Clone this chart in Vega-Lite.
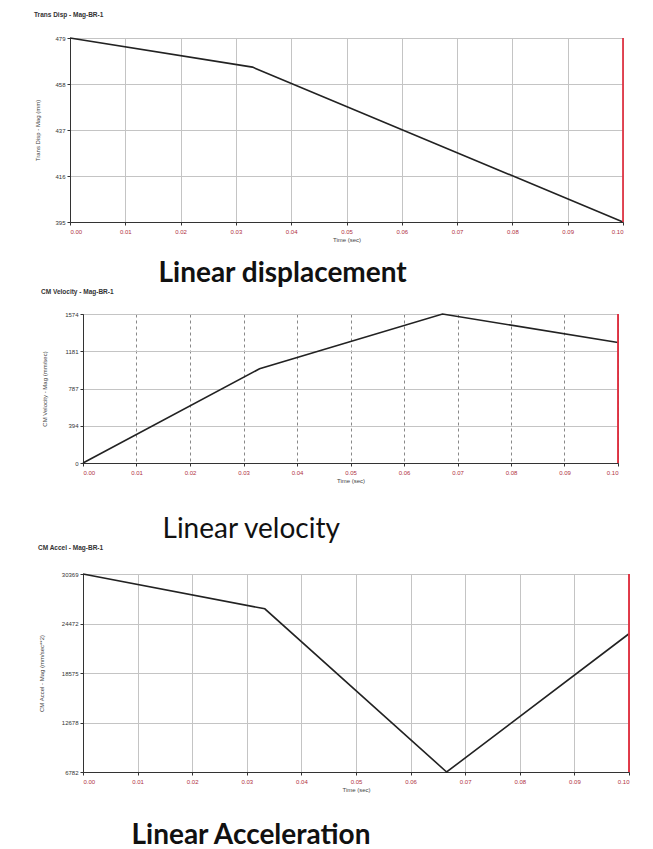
{
  "$schema": "https://vega.github.io/schema/vega-lite/v6.json",
  "padding": {"left": 33, "top": 11, "right": 0, "bottom": 0},
  "background": "white",
  "columns": 1,
  "align": "none",
  "spacing": 0,
  "datasets": {
    "disp": [{"t": 0, "v": 479}, {"t": 0.033, "v": 465.7}, {"t": 0.1, "v": 395}],
    "vel": [{"t": 0, "v": 0}, {"t": 0.033, "v": 995}, {"t": 0.0672, "v": 1574}, {"t": 0.1, "v": 1273}],
    "acc": [{"t": 0, "v": 30369}, {"t": 0.0333, "v": 26220}, {"t": 0.0666, "v": 6782}, {"t": 0.1, "v": 23250}],
    "none": []
  },
  "config": {
    "font": "Liberation Sans",
    "view": {"stroke": "#555", "strokeWidth": 1},
    "axis": {
      "labelFontSize": 6, "titleFontSize": 6, "titleFontWeight": "normal", "titleColor": "#444",
      "labelColor": "#333", "gridColor": "#c4c4c4", "gridOpacity": 1, "domainColor": "#333",
      "tickColor": "#333", "tickSize": 3
    },
    "axisY": {"format": "d"},
    "axisX": {"labelColor": "#b03040", "values": [0, 0.01, 0.02, 0.03, 0.04, 0.05, 0.06, 0.07, 0.08, 0.09, 0.1], "format": ".2f", "titlePadding": 2, "labelPadding": 3},
    "title": {"anchor": "start", "frame": "bounds"},
    "concat": {"spacing": 0}
  },
  "concat": [
    {
      "title": {"text": "Linear displacement", "orient": "bottom", "fontSize": 28, "font": "Lato", "fontWeight": "bold", "color": "#111", "dx": 125, "offset": 17},
      "vconcat": [
        {
          "title": {"text": "Trans Disp - Mag-BR-1", "fontSize": 6.5, "fontWeight": "bold", "color": "#333", "offset": 16},
          "width": 553, "height": 184,
          "data": {"name": "disp"},
          "layer": [
            {"mark": {"type": "line", "color": "#222", "strokeWidth": 1.6},
             "encoding": {
               "x": {"field": "t", "type": "quantitative", "scale": {"domain": [0, 0.1], "nice": false}, "axis": {"title": "Time (sec)"}},
               "y": {"field": "v", "type": "quantitative", "scale": {"domain": [395, 479], "nice": false, "zero": false},
                     "axis": {"title": "Trans Disp - Mag (mm)", "values": [395, 416, 437, 458, 479], "minExtent": 26, "maxExtent": 26, "titlePadding": 4}}
             }},
            {"mark": {"type": "rule", "color": "#e03040", "strokeWidth": 1}, "encoding": {"x": {"datum": 0.1}}}
          ]
        }
      ]
    },
    {
      "title": {"text": "Linear velocity", "orient": "bottom", "fontSize": 28, "font": "Lato", "fontWeight": "normal", "color": "#111", "dx": 122, "offset": 13, "dy": 19},
      "hconcat": [
        {"width": 1, "height": 1, "data": {"name": "none"}, "mark": "point", "view": {"stroke": null}},
        {
          "title": {"text": "CM Velocity - Mag-BR-1", "fontSize": 6.5, "fontWeight": "bold", "color": "#333", "offset": 15},
          "width": 535, "height": 149,
          "data": {"name": "vel"},
          "layer": [
            {"mark": {"type": "line", "color": "#222", "strokeWidth": 1.6},
             "encoding": {
               "x": {"field": "t", "type": "quantitative", "scale": {"domain": [0, 0.1], "nice": false}, "axis": {"title": "Time (sec)", "gridDash": [3, 3], "gridColor": "#888"}},
               "y": {"field": "v", "type": "quantitative", "scale": {"domain": [0, 1574], "nice": false},
                     "axis": {"title": "CM Velocity - Mag (mm/sec)", "values": [0, 394, 787, 1181, 1574], "minExtent": 32, "maxExtent": 32, "titlePadding": 4}}
             }},
            {"mark": {"type": "rule", "color": "#e03040", "strokeWidth": 1}, "encoding": {"x": {"datum": 0.1}}}
          ]
        }
      ],
      "bounds": "flush",
      "spacing": 12
    },
    {
      "title": {"text": "Linear Acceleration", "orient": "bottom", "fontSize": 28, "font": "Lato", "fontWeight": "bold", "color": "#111", "dx": 94, "offset": 29},
      "hconcat": [
        {"width": 1, "height": 1, "data": {"name": "none"}, "mark": "point", "view": {"stroke": null}},
        {
          "title": {"text": "CM Accel - Mag-BR-1", "fontSize": 6.5, "fontWeight": "bold", "color": "#333", "offset": 19},
          "width": 546, "height": 198,
          "data": {"name": "acc"},
          "layer": [
            {"mark": {"type": "line", "color": "#222", "strokeWidth": 1.6},
             "encoding": {
               "x": {"field": "t", "type": "quantitative", "scale": {"domain": [0, 0.1], "nice": false}, "axis": {"title": "Time (sec)"}},
               "y": {"field": "v", "type": "quantitative", "scale": {"domain": [6782, 30369], "nice": false, "zero": false},
                     "axis": {"title": "CM Accel - Mag (mm/sec**2)", "values": [6782, 12678, 18575, 24472, 30369], "minExtent": 35, "maxExtent": 35, "titlePadding": 4}}
             }},
            {"mark": {"type": "rule", "color": "#e03040", "strokeWidth": 1}, "encoding": {"x": {"datum": 0.1}}}
          ]
        }
      ],
      "bounds": "flush",
      "spacing": 12
    }
  ]
}
